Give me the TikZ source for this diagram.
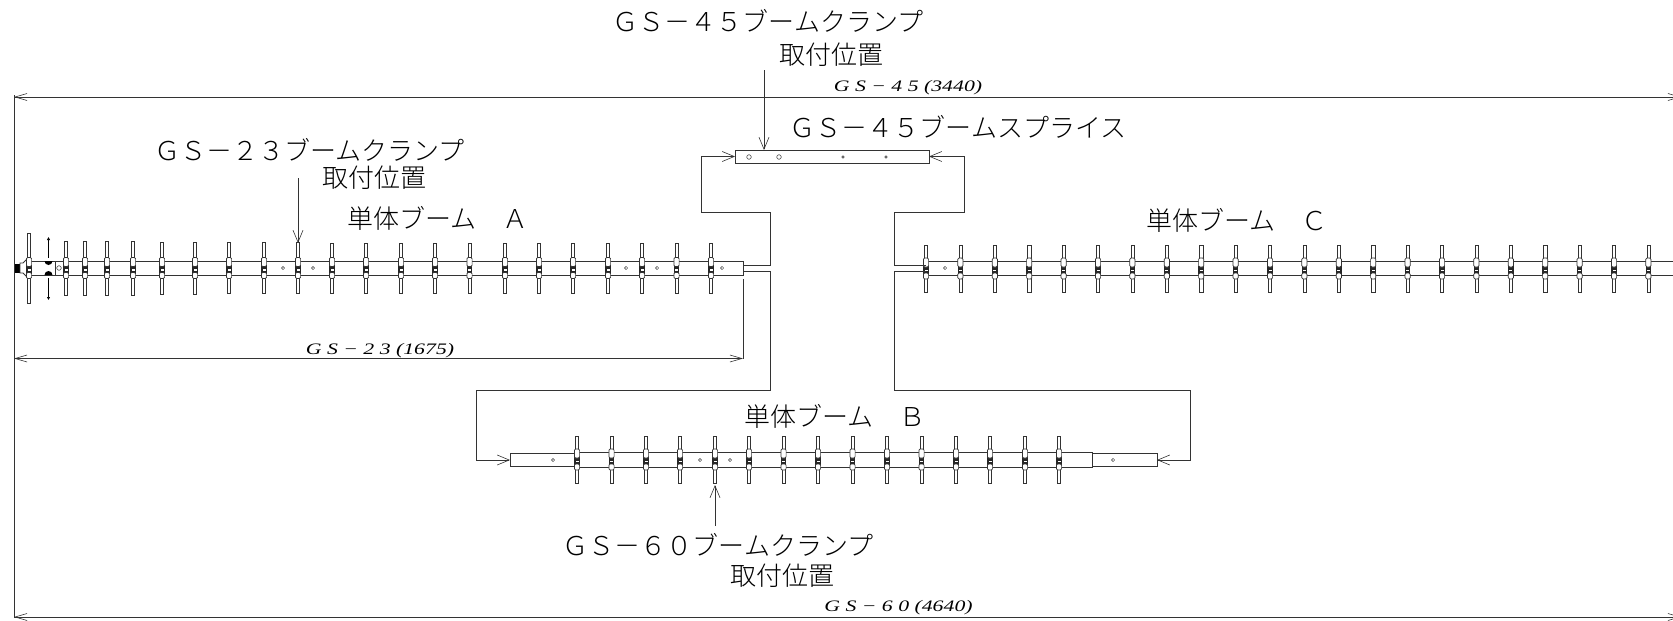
\documentclass[tikz,border=0pt]{standalone}
\usepackage{fontspec}
\usetikzlibrary{arrows.meta}
\newfontfamily\jp{Noto Sans CJK JP Light}
\newfontfamily\dimfont[ItalicFont=*-Italic,ItalicFeatures={FakeStretch=1.36}]{Liberation Serif}
\tikzset{
  ln/.style={draw=black!80,line width=0.75pt},
  conn/.style={ln,-{Straight Barb[length=12pt,width=10pt,line width=0.6pt]}},
  dimln/.style={ln,{Straight Barb[length=12pt,width=7pt,line width=0.6pt]}-{Straight Barb[length=12pt,width=7pt,line width=0.6pt]}},
  tube/.style={ln,fill=white,rectangle,inner sep=0pt,outer sep=0pt},
  hole/.style={ln,line width=0.5pt,fill=white,circle,inner sep=0pt,outer sep=0pt,minimum size=3.2pt},
  bighole/.style={hole,minimum size=4.6pt},
  lbl/.style={font=\jp\fontsize{26pt}{26pt}\selectfont,inner sep=0pt},
  dimlbl/.style={font=\dimfont\itshape\fontsize{16pt}{16pt}\selectfont,inner sep=0pt}
}
% element: x, centre y, half length
\newcommand\elem[3]{%
  \draw[ln,fill=white,line width=0.6pt] (#1-1.6,#2-#3) rectangle (#1+1.6,#2+#3);
  \fill[black!85] (#1-2.8,#2-3) rectangle (#1+2.8,#2+6);
  \fill[white] (#1-1.5,#2+1.4) rectangle (#1+1.5,#2+2.6);
  \draw[ln,fill=white,line width=0.7pt,rounded corners=1.3pt] (#1-2.6,#2-10.5) rectangle (#1+2.6,#2-1.5);
  \draw[ln,fill=white,line width=0.7pt,rounded corners=1.3pt] (#1-2.6,#2+4.5) rectangle (#1+2.6,#2+10.5);
}
\begin{document}
\begin{tikzpicture}[x=1pt,y=-1pt]
\useasboundingbox (0,0) rectangle (1673,621);
\clip (0,0) rectangle (1673,621);

% boom tubes
\node[tube,minimum width=28pt,minimum height=14pt] (aNose) at (41,268) {};
\node[tube,minimum width=688pt,minimum height=14pt] (boomA) at (399,268) {};
\node[tube,minimum width=194pt,minimum height=13pt] (splice) at (832,156.5) {};
\node[tube,minimum width=65pt,minimum height=13pt] (bLeft) at (542.5,460) {};
\node[tube,minimum width=517pt,minimum height=15pt] (boomB) at (833.5,459.5) {};
\node[tube,minimum width=65pt,minimum height=13pt] (bRight) at (1124.5,460) {};
\draw[ln] (926,261) -- (1673,261) (926,275) -- (1673,275);
\coordinate (boomC) at (926,268);

% antenna feed end
\fill[black] (14.5,264) rectangle (20,272.5);
\draw[ln,fill=white] (20,263) -- (23,263) -- (27,259) -- (27,277) -- (23,273) -- (20,273) -- cycle;

% elements of boom A
\elem{29}{268}{35}
\foreach \x/\h in {66/27,85/27,107/27,133/27,162/26,195/26,229/25.5,264/25.5,298/25.5,332/25,366/25,401/25,435/25,469.5/25,505/25,539/25,573/25,608/25,642/25,676.5/25,711/25}
  {\elem{\x}{268}{\h}}
% driven element
\draw[black,line width=1.1pt,{Latex[length=3pt,width=3.5pt]}-] (48.5,237) -- (48.5,258);
\draw[black,line width=1.1pt,-{Latex[length=3pt,width=3.5pt]}] (48.5,278) -- (48.5,300);
\fill[black] (44.5,261) arc[start angle=180,end angle=0,radius=4] -- cycle;
\fill[black] (44.5,275) arc[start angle=180,end angle=360,radius=4] -- cycle;

% elements of boom B
\foreach \x in {577,611.5,646,680,715,749,783.5,818,852.5,887,921.5,956,990,1025,1059}
  {\elem{\x}{459.5}{23.5}}

% elements of boom C
\foreach \k in {0,...,21}
  {\pgfmathsetmacro\xx{926+34.4*\k}\elem{\xx}{268.5}{23.5}}

% holes
\node[bighole] (h1) at (59,268) {};
\node[hole] (h2) at (283,268) {};
\node[hole] (h3) at (313,268) {};
\node[hole] (h4) at (626,268) {};
\node[hole] (h5) at (657,268) {};
\node[hole] (h6) at (722,268) {};
\node[bighole] (s1) at (749,157) {};
\node[bighole] (s2) at (779,157) {};
\node[hole,minimum size=2.6pt] (s3) at (843,157) {};
\node[hole,minimum size=2.6pt] (s4) at (886,157) {};
\node[hole] (b1) at (553,460) {};
\node[hole] (b2) at (700,460) {};
\node[hole] (b3) at (730,460) {};
\node[hole] (b4) at (1113,460) {};
\node[hole] (c1) at (945,268) {};

% connectors between parts
\coordinate (aT) at (743,265);
\coordinate (aB) at (743,271);
\coordinate (cT) at (926,265);
\coordinate (cB) at (926,271);
\draw[conn] (aT) -- (770,265) -- (770,212) -- (701,212) |- (splice.west);
\draw[conn] (cT) -- (894,265) -- (894,212) -- (964,212) |- (splice.east);
\draw[conn] (aB) -- (770,271) -- (770,390) -- (476,390) |- (bLeft.west);
\draw[conn] (cB) -- (894,271) -- (894,390) -- (1190,390) |- (bRight.east);

% dimension lines
\coordinate (dL45) at (14,97);
\coordinate (dR45) at (1681,97);
\coordinate (dL60) at (14,617);
\coordinate (dR60) at (1681,617);
\coordinate (dL23) at (14,358.5);
\coordinate (dR23) at (743,358.5);
\coordinate (a23) at (743,279);
\draw[ln] (14,95) -- (14,618);
\draw[ln] (a23) -- (dR23);
\draw[dimln] (dL45) -- (dR45);
\draw[dimln] (dL60) -- (dR60);
\draw[dimln] (dL23) -- (dR23);
\node[dimlbl] (t45) at (908,88) {G S − 4 5 (3440)};
\node[dimlbl] (t23) at (380,351) {G S − 2 3 (1675)};
\node[dimlbl] (t60) at (898.5,608) {G S − 6 0 (4640)};

% callouts
\node[lbl] (c45) at (768,21) {ＧＳ－４５ブームクランプ};
\node[lbl] (p45) at (831,55) {取付位置};
\node[lbl] (s45) at (958,127) {ＧＳ－４５ブームスプライス};
\node[lbl] (c23) at (309.5,150) {ＧＳ－２３ブームクランプ};
\node[lbl] (p23) at (374.5,178) {取付位置};
\node[lbl,anchor=west] (tA) at (347,218) {単体ブーム　Ａ};
\node[lbl,anchor=west] (tC) at (1146,220) {単体ブーム　Ｃ};
\node[lbl,anchor=west] (tB) at (744,416) {単体ブーム　Ｂ};
\node[lbl] (c60) at (718,545) {ＧＳ－６０ブームクランプ};
\node[lbl] (p60) at (782,576) {取付位置};

\coordinate (f45) at (764,70);
\coordinate (f23) at (298,178);
\coordinate (f60) at (715,526);
\draw[conn] (f45) -- (764,150);
\draw[conn] (f23) -- (298,243);
\draw[conn] (f60) -- (715,485);
\end{tikzpicture}
\end{document}
